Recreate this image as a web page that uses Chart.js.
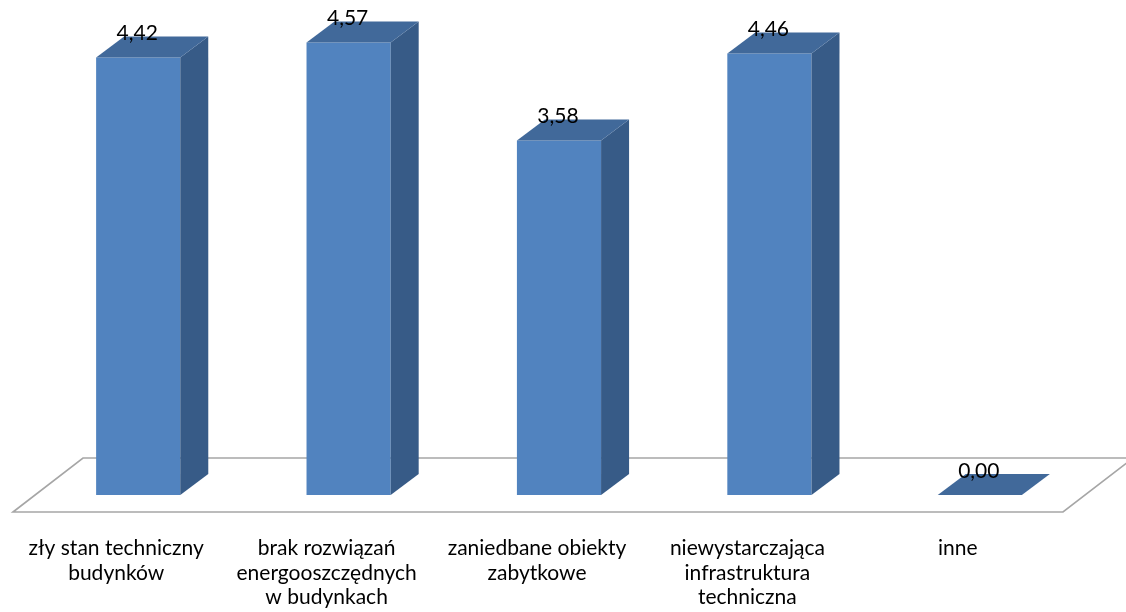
<!DOCTYPE html>
<html>
<head>
<meta charset="utf-8">
<script src="https://cdn.jsdelivr.net/npm/chart.js@4"></script>
<style>
html,body{margin:0;padding:0;background:#fff;}
#wrap{width:1126px;height:612px;position:relative;}
</style>
</head>
<body>
<div id="wrap"><canvas id="c" width="1126" height="612"></canvas></div>
<script>
const categories = [
  ['zły stan techniczny', 'budynków'],
  ['brak rozwiązań', 'energooszczędnych', 'w budynkach'],
  ['zaniedbane obiekty', 'zabytkowe'],
  ['niewystarczająca', 'infrastruktura', 'techniczna'],
  ['inne']
];
const values = [4.42, 4.57, 3.58, 4.46, 0.00];
const valueLabels = ['4,42', '4,57', '3,58', '4,46', '0,00'];

const FRONT = '#5183BF';
const SIDE = '#375B87';
const TOP = '#41699A';
const DX = 28, DY = -21;
const FONT = 'Lato, "Open Sans", sans-serif';

const floorPlugin = {
  id: 'floor',
  beforeDatasetsDraw(chart) {
    const a = chart.chartArea, ctx = chart.ctx;
    ctx.save();
    ctx.beginPath();
    ctx.moveTo(a.left - 20, a.bottom + 17);
    ctx.lineTo(a.left + 50, a.bottom - 37);
    ctx.lineTo(a.right + 48, a.bottom - 37);
    ctx.lineTo(a.right - 22, a.bottom + 17);
    ctx.closePath();
    ctx.strokeStyle = '#A6A6A6';
    ctx.lineWidth = 1.6;
    ctx.stroke();
    ctx.restore();
  },
  afterDatasetsDraw(chart) {
    const ctx = chart.ctx;
    const meta = chart.getDatasetMeta(0);
    ctx.save();
    meta.data.forEach((bar, i) => {
      const p = bar.getProps(['x', 'y', 'base', 'width'], true);
      const l = p.x - p.width / 2, r = p.x + p.width / 2;
      const t = p.y, b = p.base;
      if (b - t > 0.5) {
        ctx.beginPath();
        ctx.moveTo(r, b);
        ctx.lineTo(r + DX, b + DY);
        ctx.lineTo(r + DX, t + DY);
        ctx.lineTo(r, t);
        ctx.closePath();
        ctx.fillStyle = SIDE;
        ctx.fill();
      }
      ctx.beginPath();
      ctx.moveTo(l, t);
      ctx.lineTo(l + DX, t + DY);
      ctx.lineTo(r + DX, t + DY);
      ctx.lineTo(r, t);
      ctx.closePath();
      ctx.fillStyle = TOP;
      ctx.fill();
      ctx.fillStyle = '#000';
      ctx.font = '21px ' + FONT;
      ctx.textAlign = 'center';
      ctx.textBaseline = 'middle';
      ctx.fillText(valueLabels[i], p.x - 1, t + DY - 3);
    });
    ctx.restore();
  }
};

new Chart(document.getElementById('c'), {
  type: 'bar',
  data: {
    labels: categories,
    datasets: [{
      data: values,
      backgroundColor: FRONT,
      borderWidth: 0,
      categoryPercentage: 1.0,
      barPercentage: 0.4
    }]
  },
  options: {
    responsive: false,
    animation: false,
    layout: { padding: { left: 33, right: 41, top: 0, bottom: 0 } },
    plugins: { legend: { display: false }, tooltip: { enabled: false } },
    scales: {
      y: { display: false, min: 0, max: 5 },
      x: {
        grid: { display: false, drawTicks: false },
        border: { display: false },
        ticks: {
          color: '#000',
          font: { family: FONT, size: 21, lineHeight: '24.5px' },
          padding: 41,
          labelOffset: -22,
          maxRotation: 0,
          autoSkip: false
        },
        afterFit(scale) { scale.height = 117; }
      }
    }
  },
  plugins: [floorPlugin]
});
</script>
</body>
</html>
